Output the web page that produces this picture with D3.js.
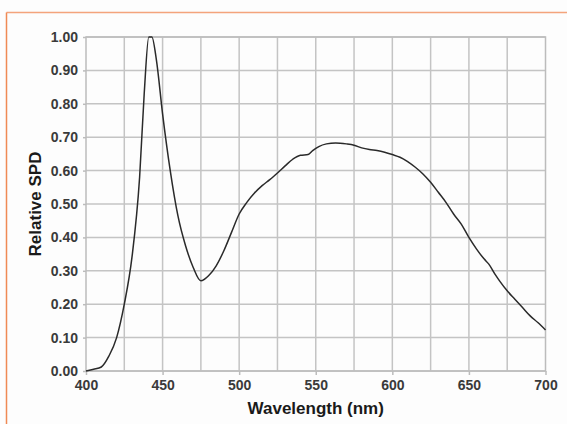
<!DOCTYPE html>
<html>
<head>
<meta charset="utf-8">
<script src="https://cdn.jsdelivr.net/npm/d3@7"></script>
<style>
  body { margin: 0; background: #fdfdfd; }
  svg { display: block; font-family: "Liberation Sans", Arial, sans-serif; }
</style>
</head>
<body>
<div id="chart"></div>
<script>
// relative spectral power distribution
var wavelengths = [400, 405, 410, 415, 420, 425, 430, 435, 438, 441, 443, 446, 450, 455, 460, 465, 470, 475,
  480, 485, 490, 495, 500, 505, 510, 515, 520, 525, 530, 535, 540, 545, 548, 552, 557, 563, 570, 575,
  580, 585, 590, 595, 600, 605, 610, 615, 620, 625, 630, 635, 640, 645, 650, 655, 660, 663, 667, 670,
  675, 680, 685, 690, 695, 700];
var spd = [0.00, 0.005, 0.012, 0.045, 0.10, 0.20, 0.34, 0.58, 0.83, 1.00, 1.00, 0.93, 0.77, 0.60, 0.465, 0.375, 0.31, 0.27,
  0.285, 0.315, 0.36, 0.415, 0.47, 0.505, 0.533, 0.555, 0.573, 0.593, 0.614, 0.634, 0.646, 0.648, 0.66, 0.672, 0.68, 0.683, 0.68, 0.676,
  0.668, 0.663, 0.66, 0.655, 0.648, 0.64, 0.627, 0.61, 0.59, 0.565, 0.535, 0.505, 0.47, 0.44, 0.40, 0.365, 0.335, 0.32, 0.29, 0.27,
  0.24, 0.215, 0.19, 0.165, 0.145, 0.123];
var xTicks = [400, 450, 500, 550, 600, 650, 700];
var xGrid = [425, 450, 475, 500, 525, 550, 575, 600, 625, 650, 675];
var yTicks = [0, 0.1, 0.2, 0.3, 0.4, 0.5, 0.6, 0.7, 0.8, 0.9, 1.0];

var width = 567,
    height = 424,
    margin = {top: 37, right: 21.5, bottom: 53, left: 86};
var innerW = width - margin.left - margin.right,
    innerH = height - margin.top - margin.bottom;

var svg = d3.select("#chart").append("svg")
    .attr("width", width)
    .attr("height", height);

// orange frame (top + left only)
svg.append("line").attr("x1", 6.5).attr("x2", width).attr("y1", 12.5).attr("y2", 12.5)
    .attr("stroke", "#f4a47c").attr("stroke-width", 1.5);
svg.append("line").attr("x1", 6.5).attr("x2", 6.5).attr("y1", 12.5).attr("y2", height)
    .attr("stroke", "#f08a55").attr("stroke-width", 1.5);

var g = svg.append("g").attr("transform", "translate(" + margin.left + "," + margin.top + ")");

var x = d3.scaleLinear().domain([400, 700]).range([0, innerW]);
var y = d3.scaleLinear().domain([0, 1]).range([innerH, 0]);

// grid
g.append("g").attr("class", "grid")
  .selectAll("line.v").data(xGrid).enter().append("line")
    .attr("x1", function(d) { return x(d); }).attr("x2", function(d) { return x(d); })
    .attr("y1", 0).attr("y2", innerH);
g.append("g").attr("class", "grid")
  .selectAll("line.h").data(yTicks).enter().append("line")
    .attr("x1", 0).attr("x2", innerW)
    .attr("y1", function(d) { return y(d); }).attr("y2", function(d) { return y(d); });
g.selectAll(".grid line").attr("stroke", "#c4c4c4").attr("stroke-width", 1.5);

g.append("rect").attr("width", innerW).attr("height", innerH)
    .attr("fill", "none").attr("stroke", "#bcbcbc").attr("stroke-width", 1.5);

// axes
var xAxis = g.append("g").attr("transform", "translate(0," + innerH + ")")
    .call(d3.axisBottom(x).tickValues(xTicks).tickSize(4).tickPadding(5).tickFormat(d3.format("d")));
var yAxis = g.append("g")
    .call(d3.axisLeft(y).tickValues(yTicks).tickSize(3).tickPadding(5).tickFormat(d3.format(".2f")));
[xAxis, yAxis].forEach(function(a) {
  a.select(".domain").remove();
  a.selectAll(".tick line").attr("stroke", "#bcbcbc").attr("stroke-width", 1.5);
  a.selectAll("text").attr("fill", "#3a3a3a").style("font-size", "14px").style("font-weight", "bold");
});

// curve
var line = d3.line()
    .x(function(d, i) { return x(wavelengths[i]); })
    .y(function(d) { return y(d); })
    .curve(d3.curveMonotoneX);
g.append("path").datum(spd)
    .attr("d", line)
    .attr("fill", "none")
    .attr("stroke", "#2a2a2a")
    .attr("stroke-width", 1.5);

// titles
svg.append("text")
    .attr("x", margin.left + innerW / 2).attr("y", 414)
    .attr("text-anchor", "middle")
    .style("font-size", "17px").style("font-weight", "bold").attr("fill", "#1a1a1a")
    .text("Wavelength (nm)");
svg.append("text")
    .attr("transform", "translate(41," + (margin.top + innerH / 2) + ") rotate(-90)")
    .attr("text-anchor", "middle")
    .style("font-size", "17px").style("font-weight", "bold").attr("fill", "#1a1a1a")
    .text("Relative SPD");
</script>
</body>
</html>
